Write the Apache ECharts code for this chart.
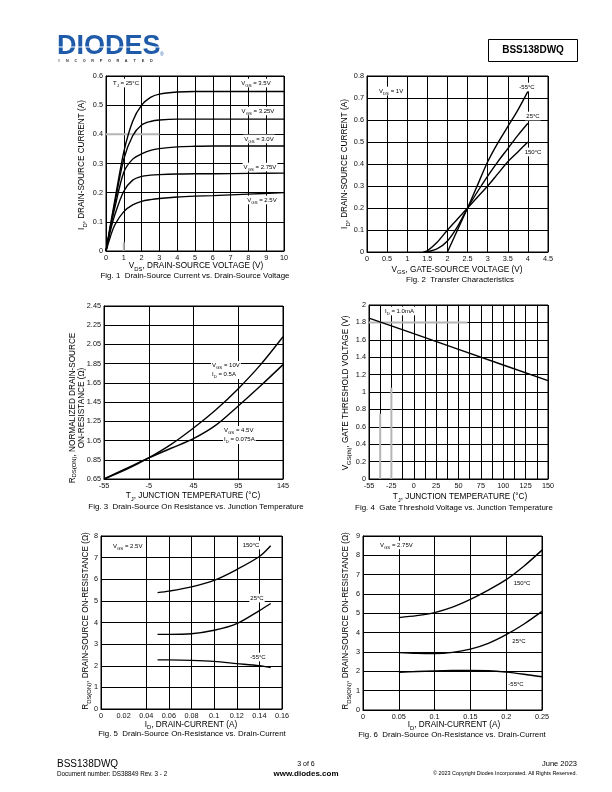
<!DOCTYPE html>
<html><head><meta charset="utf-8">
<script src="https://cdn.jsdelivr.net/npm/echarts@6/dist/echarts.min.js"></script>
<style>html,body{margin:0;padding:0;background:#fff}#c{width:612px;height:792px}</style>
</head><body><div id="c"></div><script>
// ---------- Fig. 1 : ID vs VDS ----------
const f1Vds = [0,0.25,0.5,1,1.5,2,2.5,3,4,5,6,8,10];
const f1Id_350 = [0,0.09,0.175,0.34,0.445,0.50,0.527,0.538,0.545,0.547,0.547,0.547,0.547];
const f1Id_325 = [0,0.085,0.165,0.315,0.395,0.432,0.444,0.449,0.452,0.452,0.452,0.452,0.452];
const f1Id_300 = [0,0.08,0.15,0.27,0.315,0.333,0.345,0.351,0.357,0.359,0.36,0.36,0.36];
const f1Id_275 = [0,0.07,0.125,0.205,0.243,0.256,0.26,0.262,0.264,0.265,0.265,0.266,0.267];
const f1Id_250 = [0,0.05,0.09,0.135,0.158,0.17,0.176,0.18,0.185,0.188,0.19,0.195,0.2];
const f1GrayX = [[0,3],[1,1]];
const f1GrayY = [[0.4,0.4],[0,0.03]];
// ---------- Fig. 2 : transfer ----------
const f2Vgs_m55 = [2,2.25,2.5,2.75,3,3.25,3.5,3.75,4];
const f2Id_m55  = [0,0.1,0.2,0.305,0.41,0.495,0.57,0.645,0.73];
const f2Vgs_25  = [1.5,1.75,2,2.25,2.5,2.75,3,3.25,3.5,3.75,4];
const f2Id_25   = [0,0.015,0.05,0.115,0.2,0.275,0.345,0.41,0.47,0.53,0.585];
const f2Vgs_150 = [1.4,1.5,1.75,2,2.25,2.5,2.75,3,3.25,3.5,3.75,4];
const f2Id_150  = [0,0.005,0.045,0.1,0.15,0.2,0.25,0.3,0.355,0.41,0.455,0.5];
// ---------- Fig. 3 : normalized RDS(on) vs Tj ----------
const f3Tj = [-55,-30,-5,20,45,70,95,120,145];
const f3R_10V  = [0.65,0.75,0.87,1.01,1.18,1.37,1.59,1.84,2.13];
const f3R_45V  = [0.65,0.76,0.87,0.97,1.07,1.21,1.41,1.62,1.84];
// ---------- Fig. 4 : VGS(th) vs Tj ----------
const f4Tj = [-50,0,50,100,150];
const f4Vth = [1.85,1.67,1.49,1.31,1.13];
const f4TickVals = [-50,-25,0,25,50,75,100,125,150];
const f4TickLabels = ['-55','-25','0','25','50','75','100','125','150'];
const f4GrayX = [[-50,60],[-37.5,-37.5],[-25,-25]];
const f4GrayY = [[1.8,1.8],[0,0.75],[0,1.05]];
// ---------- Fig. 5 : RDS(on) vs ID, VGS=2.5V ----------
const f5Id = [0.05,0.06,0.08,0.1,0.12,0.14,0.15];
const f5R_150 = [5.38,5.45,5.65,5.95,6.45,7.05,7.55];
const f5R_25  = [3.45,3.45,3.48,3.64,3.95,4.55,4.88];
const f5R_m55 = [2.27,2.27,2.25,2.2,2.1,2.0,1.92];
// ---------- Fig. 6 : RDS(on) vs ID, VGS=2.75V ----------
const f6Id = [0.05,0.075,0.1,0.125,0.15,0.175,0.2,0.225,0.25];
const f6R_150 = [4.78,4.88,5.04,5.32,5.72,6.2,6.74,7.45,8.27];
const f6R_25  = [2.97,2.93,2.92,2.98,3.15,3.45,3.9,4.45,5.1];
const f6R_m55 = [1.95,1.99,2.02,2.04,2.05,2.03,1.96,1.85,1.72];

const FONT = '"Liberation Sans", Arial, sans-serif';
const chart = echarts.init(document.getElementById('c'), null, {renderer:'canvas'});

function rt(s){
  let out='', last=0, m; const re=/_\{([^}]*)\}/g;
  while((m=re.exec(s))){ if(m.index>last) out+='{n|'+s.slice(last,m.index)+'}'; out+='{s|'+m[1]+'}'; last=re.lastIndex; }
  if(last<s.length) out+='{n|'+s.slice(last)+'}';
  return out;
}
function txt(x,y,s,size,o){
  o=o||{};
  const text = s.split('\n').map(rt).join('\n');
  const lh = size*(o.lh||1.45);
  const el = {type:'text', x:x, y:y, rotation:o.rot||0, scaleX:o.sx||1, z:100, silent:true,
    style:{text:text, align:o.align||'left', verticalAlign:'middle', fill:o.color||'#000',
      fontFamily:FONT, fontSize:size, fontWeight:o.bold?'bold':'normal',
      rich:{
        n:{fontSize:size, fontFamily:FONT, fontWeight:o.bold?'bold':'normal', fill:o.color||'#000', lineHeight:lh, verticalAlign:'middle'},
        s:{fontSize:size*0.72, fontFamily:FONT, fill:o.color||'#000', verticalAlign:'bottom'}
      }}};
  if(o.bg){ el.style.backgroundColor='#fff'; el.style.padding=[0,1,0,1]; }
  return el;
}
function zip(xs,ys){ return xs.map((x,i)=>[x,ys[i]]); }
function curve(gi,xs,ys,o){
  o=o||{};
  return {type:'line', xAxisIndex:gi, yAxisIndex:gi, data:zip(xs,ys), symbol:'none', showSymbol:false,
    smooth:o.smooth===undefined?0.3:o.smooth, silent:true, animation:false, z:o.z||5,
    lineStyle:{color:o.color||'#000', width:o.width||1.4}};
}
function axisBase(gi,min,max,interval,extra){
  const a = {type:'value', gridIndex:gi, min:min, max:max, interval:interval,
    axisLine:{show:true, onZero:false, lineStyle:{color:'#000', width:1}},
    axisTick:{show:false},
    splitLine:{show:true, lineStyle:{color:'#000', width:1}},
    axisLabel:{color:'#111', fontSize:7.3, fontFamily:FONT, margin:3}};
  if(extra){
    if(extra.formatter) a.axisLabel.formatter = extra.formatter;
    if(extra.splitColors) a.splitLine.lineStyle.color = extra.splitColors;
    if(extra.margin!==undefined) a.axisLabel.margin = extra.margin;
  }
  return a;
}

const grids = [
  {left:106, top:76, width:178, height:175},
  {left:367, top:76, width:181, height:176},
  {left:104, top:306, width:179, height:173},
  {left:369, top:305, width:179, height:174},
  {left:101, top:536, width:181, height:173},
  {left:363, top:536, width:179, height:174}
].map(g=>Object.assign({show:true, borderColor:'#000', borderWidth:1, backgroundColor:'transparent'}, g));

// Fig. 5 has no vertical grid line at 0.02
const f5SplitColors = ['#000','rgba(0,0,0,0)','#000','#000','#000','#000','#000','#000','#000'];

const xAxis = [
  axisBase(0,0,10,1),
  axisBase(1,0,4.5,0.5),
  axisBase(2,-55,145,50),
  axisBase(3,-50,150,12.5,{formatter:v=>{const i=f4TickVals.indexOf(v);return i>=0?f4TickLabels[i]:'';}}),
  axisBase(4,0,0.16,0.02,{splitColors:f5SplitColors}),
  axisBase(5,0,0.25,0.05)
];
const yAxis = [
  axisBase(0,0,0.6,0.1),
  axisBase(1,0,0.8,0.1),
  axisBase(2,0.65,2.45,0.2,{formatter:v=>v.toFixed(2)}),
  axisBase(3,0,2,0.2),
  axisBase(4,0,8,1),
  axisBase(5,0,9,1)
];

const series = [
  curve(0,f1GrayX[0],f1GrayY[0],{color:'#b5b5b5',width:2,smooth:false,z:3}),
  curve(0,f1GrayX[1],f1GrayY[1],{color:'#b5b5b5',width:2,smooth:false,z:3}),
  curve(0,f1Vds,f1Id_350), curve(0,f1Vds,f1Id_325), curve(0,f1Vds,f1Id_300),
  curve(0,f1Vds,f1Id_275), curve(0,f1Vds,f1Id_250),
  curve(1,f2Vgs_m55,f2Id_m55), curve(1,f2Vgs_25,f2Id_25), curve(1,f2Vgs_150,f2Id_150),
  curve(2,f3Tj,f3R_10V), curve(2,f3Tj,f3R_45V),
  curve(3,f4GrayX[0],f4GrayY[0],{color:'#b5b5b5',width:2,smooth:false,z:3}),
  curve(3,f4GrayX[1],f4GrayY[1],{color:'#b5b5b5',width:2,smooth:false,z:3}),
  curve(3,f4GrayX[2],f4GrayY[2],{color:'#b5b5b5',width:2,smooth:false,z:3}),
  curve(3,f4Tj,f4Vth,{smooth:false}),
  curve(4,f5Id,f5R_150), curve(4,f5Id,f5R_25), curve(4,f5Id,f5R_m55),
  curve(5,f6Id,f6R_150), curve(5,f6Id,f6R_25), curve(5,f6Id,f6R_m55)
];

const T = 8.2, C = 7.2, CS = 1.1, A = 6;
const incLetters = 'INCORPORATED'.split('');
const graphic = [
  // header
  {type:'text', x:57, y:47, z:100, style:{text:'DIODES', fontFamily:FONT, fontWeight:'bold', fontSize:27, fill:'#1f5ba8', align:'left', verticalAlign:'middle'}},
  {type:'rect', z:101, shape:{x:56, y:46.5, width:104, height:1}, style:{fill:'#fff'}},
  {type:'text', x:160, y:55, z:100, style:{text:'®', fontFamily:FONT, fontSize:5, fill:'#1f5ba8', align:'left', verticalAlign:'middle'}}
].concat(incLetters.map((ch,i)=>({type:'text', x:59+i*8.4, y:61, z:100, style:{text:ch, fontFamily:FONT, fontSize:3.8, fontWeight:'bold', fill:'#333', align:'center', verticalAlign:'middle'}}))).concat([
  {type:'rect', z:100, shape:{x:488.5, y:39.5, width:89, height:22}, style:{fill:'#fff', stroke:'#000', lineWidth:1}},
  txt(533,50.5,'BSS138DWQ',10,{align:'center',bold:true}),
  // Fig 1
  txt(196,266,'V_{DS}, DRAIN-SOURCE VOLTAGE (V)',T,{align:'center'}),
  txt(82,165,'I_{D}, DRAIN-SOURCE CURRENT (A)',T,{align:'center',rot:Math.PI/2}),
  txt(195,276,'Fig. 1  Drain-Source Current vs. Drain-Source Voltage',C,{align:'center',sx:CS}),
  txt(112,83,'T_{J} = 25°C',A,{bg:true}),
  txt(256,83,'V_{GS} = 3.5V',A,{align:'center',bg:true}),
  txt(258,111,'V_{GS} = 3.25V',A,{align:'center',bg:true}),
  txt(259,139,'V_{GS} = 3.0V',A,{align:'center',bg:true}),
  txt(260,167,'V_{GS} = 2.75V',A,{align:'center',bg:true}),
  txt(262,200,'V_{GS} = 2.5V',A,{align:'center',bg:true}),
  // Fig 2
  txt(457,269.5,'V_{GS}, GATE-SOURCE VOLTAGE (V)',T,{align:'center'}),
  txt(345,164,'I_{D}, DRAIN-SOURCE CURRENT (A)',T,{align:'center',rot:Math.PI/2}),
  txt(460,280,'Fig. 2  Transfer Characteristics',C,{align:'center',sx:CS}),
  txt(378,91,'V_{DS} = 1V',A,{bg:true}),
  txt(527,87,'-55°C',A,{align:'center',bg:true}),
  txt(533,116,'25°C',A,{align:'center',bg:true}),
  txt(533,152,'150°C',A,{align:'center',bg:true}),
  // Fig 3
  txt(193,496,'T_{J}, JUNCTION TEMPERATURE (°C)',T,{align:'center'}),
  txt(77,408,'R_{DS(ON)}, NORMALIZED DRAIN-SOURCE\nON-RESISTANCE (Ω)',T,{align:'center',rot:Math.PI/2,lh:1.12}),
  txt(196,507,'Fig. 3  Drain-Source On Resistance vs. Junction Temperature',C,{align:'center',sx:CS}),
  txt(211,370,'V_{GS} = 10V\nI_{D} = 0.5A',A,{bg:true,lh:1.5}),
  txt(223,435,'V_{GS} = 4.5V\nI_{D} = 0.075A',A,{bg:true,lh:1.5}),
  // Fig 4
  txt(460,497,'T_{J}, JUNCTION TEMPERATURE (°C)',T,{align:'center'}),
  txt(346,393,'V_{GS(th)}, GATE THRESHOLD VOLTAGE (V)',T,{align:'center',rot:Math.PI/2}),
  txt(454,508,'Fig. 4  Gate Threshold Voltage vs. Junction Temperature',C,{align:'center',sx:CS}),
  txt(384,311,'I_{D} = 1.0mA',A,{bg:true}),
  // Fig 5
  txt(191,724.5,'I_{D}, DRAIN-CURRENT (A)',T,{align:'center'}),
  txt(86,621,'R_{DS(ON)}, DRAIN-SOURCE ON-RESISTANCE (Ω)',T,{align:'center',rot:Math.PI/2}),
  txt(192,734.5,'Fig. 5  Drain-Source On-Resistance vs. Drain-Current',C,{align:'center',sx:CS}),
  txt(112,546,'V_{GS} = 2.5V',A,{bg:true}),
  txt(251,545,'150°C',A,{align:'center',bg:true}),
  txt(257,598,'25°C',A,{align:'center',bg:true}),
  txt(258,657,'-55°C',A,{align:'center',bg:true}),
  // Fig 6
  txt(454,725,'I_{D}, DRAIN-CURRENT (A)',T,{align:'center'}),
  txt(346,621,'R_{DS(ON)}, DRAIN-SOURCE ON-RESISTANCE (Ω)',T,{align:'center',rot:Math.PI/2}),
  txt(452,735,'Fig. 6  Drain-Source On-Resistance vs. Drain-Current',C,{align:'center',sx:CS}),
  txt(379,545,'V_{GS} = 2.75V',A,{bg:true}),
  txt(522,583,'150°C',A,{align:'center',bg:true}),
  txt(519,641,'25°C',A,{align:'center',bg:true}),
  txt(516,684,'-55°C',A,{align:'center',bg:true}),
  // footer
  txt(57,764,'BSS138DWQ',10),
  txt(57,774,'Document number: DS38849 Rev. 3 - 2',6.3),
  txt(306,764,'3 of 6',7,{align:'center'}),
  txt(306,774,'www.diodes.com',8,{align:'center',bold:true}),
  txt(577,764,'June 2023',7.5,{align:'right'}),
  txt(577,774,'© 2023 Copyright Diodes Incorporated. All Rights Reserved.',5.4,{align:'right'})
]);

chart.setOption({animation:false, backgroundColor:'#fff', grid:grids, xAxis:xAxis, yAxis:yAxis, series:series, graphic:graphic});
</script></body></html>
